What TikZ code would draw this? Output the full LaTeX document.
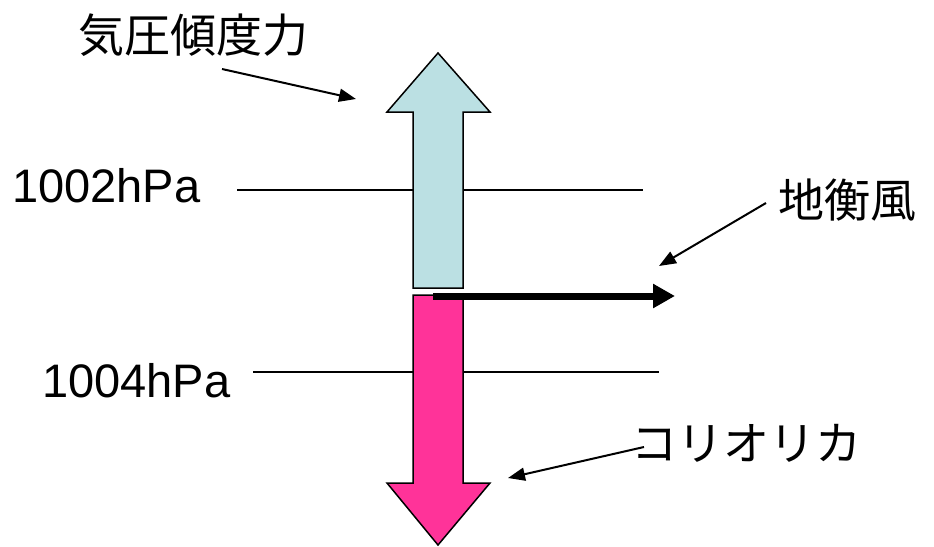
\documentclass[tikz,border=0pt]{standalone}
\usepackage{fontspec}
\setmainfont{Liberation Sans}
\newfontfamily\jpfont{Noto Sans CJK JP}
\usetikzlibrary{arrows.meta}
\definecolor{pgblue}{RGB}{187,224,227}
\definecolor{pgpink}{RGB}{255,51,153}
\begin{document}
\begin{tikzpicture}[x=1pt,y=-1pt,
  lbl/.style={inner sep=0pt,font=\fontsize{47}{47}\selectfont},
  jlbl/.style={inner sep=0pt,font=\fontsize{46}{46}\selectfont\jpfont},
  pointer/.style={line width=2pt,-{Triangle[length=17pt,width=13pt]}},
  isobar/.style={line width=1.5pt},
  bigarrow/.style={draw=black,line width=1.5pt,line join=miter}]
\useasboundingbox (0,0) rectangle (934,546);
% isobars
\node[lbl,anchor=base west] (p1002) at (12,202) {1002hPa};
\node[lbl,anchor=base west] (p1004) at (42,397) {1004hPa};
\coordinate (i1a) at (237,190);
\coordinate (i1b) at (643,190);
\coordinate (i2a) at (253,372);
\coordinate (i2b) at (659,372);
\draw[isobar] (i1a) -- (i1b);
\draw[isobar] (i2a) -- (i2b);
% pressure gradient force arrow (blue, up)
\draw[bigarrow,fill=pgblue] (413,288) -- (413,112) -- (387,112) -- (438,53) -- (490,112) -- (463,112) -- (463,288) -- cycle;
% coriolis force arrow (pink, down)
\draw[bigarrow,fill=pgpink] (413,295) -- (413,483) -- (387,483) -- (438,545) -- (490,483) -- (463,483) -- (463,295) -- cycle;
% geostrophic wind
\coordinate (w0) at (433,296);
\coordinate (w1) at (675,296);
\draw[line width=7pt,-{Triangle[length=22pt,width=23pt]}] (w0) -- (w1);
% labels
\node[jlbl] (kiatsu) at (193,35) {気圧傾度力};
\node[jlbl] (chikou) at (847,200) {地衡風};
\node[jlbl] (corio) at (746,443) {コリオリカ};
\coordinate (t1) at (356,99);
\coordinate (t2) at (659,266);
\coordinate (t3) at (508,478);
\coordinate (s1) at (222,69);
\coordinate (s2) at (766,203);
\coordinate (s3) at (644,447);
\draw[pointer] (s1) -- (t1);
\draw[pointer] (s2) -- (t2);
\draw[pointer] (s3) -- (t3);
\end{tikzpicture}
\end{document}
